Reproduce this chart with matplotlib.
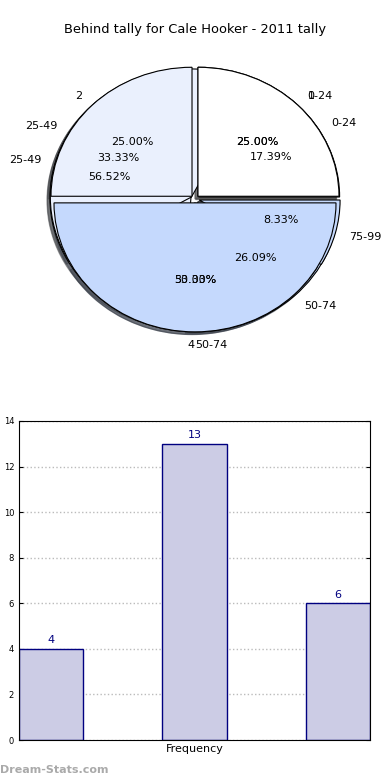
import numpy as np
import matplotlib.pyplot as plt

# three pies drawn on top of each other (as in the original)
pie1_labels = ['1', '2', '4']
pie1_values = [1, 1, 2]
pie2_labels = ['0-24', '25-49', '50-74', '75-99']
pie2_values = [3, 4, 4, 1]
pie3_labels = ['0-24', '25-49', '50-74']
pie3_values = [4, 13, 6]

bar_values = [4, 13, 6]

colors = ['white', '#eaf0fd', '#c5d9fd', '#c5d9fd']

fig = plt.figure(figsize=(3.9, 7.8), dpi=100)

W, H = 390.0, 780.0
cx, cy, rx, ry = 195.0, 199.0, 141.0, 129.0
ax = fig.add_axes([(cx - 1.3*rx)/W, 1 - (cy + 1.3*ry)/H, 2.6*rx/W, 2.6*ry/H])

for vals, labs in [(pie3_values, pie3_labels), (pie2_values, pie2_labels), (pie1_values, pie1_labels)]:
    wedges, texts, autotexts = ax.pie(vals, labels=labs, colors=colors[:len(vals)],
                                      explode=[0.03]*len(vals), shadow={'ox': -0.015, 'oy': -0.015},
                                      autopct='%1.2f%%', startangle=0,
                                      textprops={'fontsize': 8},
                                      wedgeprops={'edgecolor': 'black', 'linewidth': 0.8})
    if labs is pie1_labels:
        texts[2].set_ha('right')
    if labs is pie2_labels:
        texts[2].set_ha('left')

ax.set_aspect('auto')
ax.set_xlim(-1.3, 1.3)
ax.set_ylim(-1.3, 1.3)

fig.text(0.5, 1 - 30/H, 'Behind tally for Cale Hooker - 2011 tally', ha='center', va='center', fontsize=9.4)

# bar chart
ax2 = fig.add_axes([19/W, 1 - 740/H, 351/W, 319/H])
x = np.arange(len(bar_values))
ax2.bar(x, bar_values, width=0.45, color='#ccccE5', edgecolor='#000080', linewidth=1)
for xi, v in zip(x, bar_values):
    ax2.text(xi, v + 0.15, str(v), ha='center', va='bottom', color='#000080', fontsize=8)
ax2.set_xlim(-0.225, 2.225)
ax2.set_ylim(0, 14)
ax2.set_yticks(range(0, 15, 2))
ax2.set_xticks([])
ax2.tick_params(axis='y', labelsize=6, length=3, right=True, direction='in')
ax2.yaxis.grid(True, linestyle=':', color='#bbbbbb', linewidth=1)
ax2.set_axisbelow(True)
ax2.set_xlabel('Frequency', fontsize=8, labelpad=3)
ax2.set_ylabel('Data Intervals', fontsize=8, labelpad=2)

fig.text(0.0, 1 - 770/H, 'Dream-Stats.com', ha='left', va='center', fontsize=8, color='#aaaaaa', fontweight='bold')

fig.savefig('out.png', dpi=100)
